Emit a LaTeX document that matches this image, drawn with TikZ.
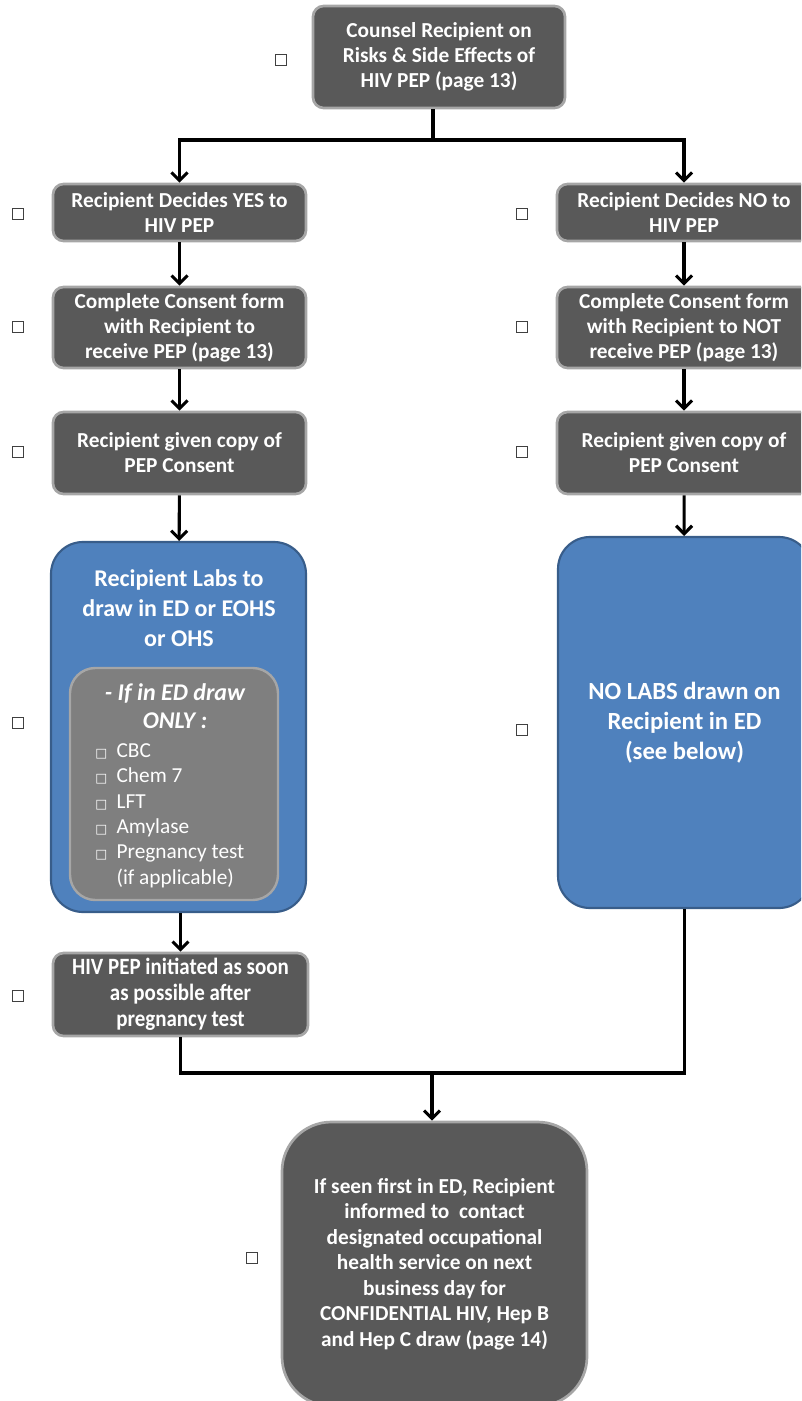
\documentclass[tikz,border=0pt]{standalone}
\usepackage{fontspec}
\setmainfont{Carlito}
\newfontfamily\symfont{DejaVu Sans}
\newfontfamily\condfont{Carlito}[FakeStretch=0.9]
\usetikzlibrary{arrows.meta}
\definecolor{boxgrey}{HTML}{595959}
\definecolor{bordergrey}{HTML}{A6A6A6}
\definecolor{boxblue}{HTML}{4F81BD}
\definecolor{borderblue}{HTML}{385D8A}
\definecolor{innergrey}{HTML}{7F7F7F}
\begin{document}
\begin{tikzpicture}[x=0.75pt,y=-0.75pt,
  gbox/.style={draw=bordergrey, line width=2pt, fill=boxgrey, rounded corners=8pt,
    text=white, font=\bfseries\fontsize{16}{18.75}\selectfont, align=center, inner sep=0pt},
  bbox/.style={draw=borderblue, line width=1.6pt, fill=boxblue, rounded corners=24pt,
    text=white, font=\bfseries\fontsize{18.5}{22.5}\selectfont, align=center, inner sep=0pt},
  ibox/.style={draw=bordergrey, line width=1.8pt, fill=innergrey, rounded corners=19pt, inner sep=0pt},
  chk/.style={draw=black!75, line width=0.8pt, fill=white, minimum size=8.5pt, inner sep=0pt},
  conn/.style={line width=2.3pt, black},
  arr/.style={conn, -{Straight Barb[length=6pt,width=12pt]}},
  ltxt/.style={text=white, inner sep=0pt}
]
\useasboundingbox (0,0) rectangle (801,1401);
\clip (0,0) rectangle (801,1401);

% top
\node[gbox, minimum width={252*0.75pt}, minimum height={102*0.75pt}] (top) at (439,57)
  {Counsel Recipient on\\Risks \& Side Effects of\\HIV PEP (page 13)};

% left column
\node[gbox, minimum width={253*0.75pt}, minimum height={57*0.75pt}] (yes) at (179.5,212.5)
  {Recipient Decides YES to\\HIV PEP};
\node[gbox, minimum width={253*0.75pt}, minimum height={81*0.75pt}] (consL) at (179.5,327.5)
  {Complete Consent form\\with Recipient to\\receive PEP (page 13)};
\node[gbox, minimum width={253*0.75pt}, minimum height={82*0.75pt}] (copyL) at (179.5,453)
  {Recipient given copy of\\PEP Consent};
\node[bbox, minimum width={255*0.75pt}, minimum height={370*0.75pt}] (labsL) at (178.5,727) {};
\node[ltxt, font=\bfseries\fontsize{18}{22.5}\selectfont, align=center] (labsLt) at (179,608)
  {Recipient Labs to\\draw in ED or EOHS\\or OHS};
\node[ibox, minimum width={208*0.75pt}, minimum height={232*0.75pt}] (only) at (174,784) {};
\node[ltxt, font=\bfseries\itshape\fontsize{18}{21}\selectfont, align=center] (onlyh) at (175,706)
  {- If in ED draw\\ONLY :};
\node[ltxt, anchor=north west, font=\fontsize{16}{19.1}\selectfont] (onlyl) at (95,739)
  {\begin{tabular}{@{}l@{\hspace{7pt}}l@{}}
   {\symfont\fontsize{9.5}{9.5}\selectfont □} & CBC\\
   {\symfont\fontsize{9.5}{9.5}\selectfont □} & Chem 7\\
   {\symfont\fontsize{9.5}{9.5}\selectfont □} & LFT\\
   {\symfont\fontsize{9.5}{9.5}\selectfont □} & Amylase\\
   {\symfont\fontsize{9.5}{9.5}\selectfont □} & Pregnancy test\\
   & (if applicable)
   \end{tabular}};
\node[gbox, minimum width={255*0.75pt}, minimum height={83*0.75pt},
  font=\condfont\bfseries\fontsize{17.5}{19.5}\selectfont] (pep) at (180.5,994.5)
  {HIV PEP initiated as soon\\as possible after\\pregnancy test};

% right column
\node[gbox, minimum width={254*0.75pt}, minimum height={57*0.75pt}] (no) at (684,212.5)
  {Recipient Decides NO to\\HIV PEP};
\node[gbox, minimum width={254*0.75pt}, minimum height={81*0.75pt}] (consR) at (684,327.5)
  {Complete Consent form\\with Recipient to NOT\\receive PEP (page 13)};
\node[gbox, minimum width={254*0.75pt}, minimum height={82*0.75pt}] (copyR) at (684,453)
  {Recipient given copy of\\PEP Consent};
\node[bbox, minimum width={253*0.75pt}, minimum height={371*0.75pt}] (labsR) at (684.5,722.5)
  {NO LABS drawn on\\Recipient in ED\\(see below)};

% bottom
\node[gbox, rounded corners=37pt, minimum width={305*0.75pt}, minimum height={284*0.75pt},
  font=\bfseries\fontsize{16}{19.1}\selectfont] (final) at (434.5,1264)
  {If seen first in ED, Recipient\\informed to\ \ contact\\designated occupational\\health service on next\\business day for\\CONFIDENTIAL HIV, Hep B\\and Hep C draw (page 14)};

% checkboxes
\node[chk] (c0) at (281,60) {};
\node[chk] (c1) at (18,214) {};
\node[chk] (c2) at (522,214) {};
\node[chk] (c3) at (18,327) {};
\node[chk] (c4) at (522,327) {};
\node[chk] (c5) at (18,452) {};
\node[chk] (c6) at (522,452) {};
\node[chk] (c7) at (18,723) {};
\node[chk] (c8) at (522,730) {};
\node[chk] (c9) at (18,996) {};
\node[chk] (c10) at (252,1258) {};

% connectors
\coordinate (j1) at (433,140);
\coordinate (j2) at (432,1073);
\draw[conn] (top.south -| j1) -- (j1);
\draw[arr] (j1) -| (yes.north);
\draw[arr] (j1) -| (no.north);
\draw[arr] (yes) -- (consL);
\draw[arr] (consL) -- (copyL);
\draw[arr] (copyL) -- (labsL);
\draw[arr] (labsL.south -| pep.north) -- (pep.north);
\draw[arr] (no) -- (consR);
\draw[arr] (consR) -- (copyR);
\draw[arr] (copyR) -- (labsR);
\draw[conn] (pep.south) |- (j2) -| (labsR.south);
\draw[arr] (j2) -- (j2 |- final.north);
\end{tikzpicture}
\end{document}
